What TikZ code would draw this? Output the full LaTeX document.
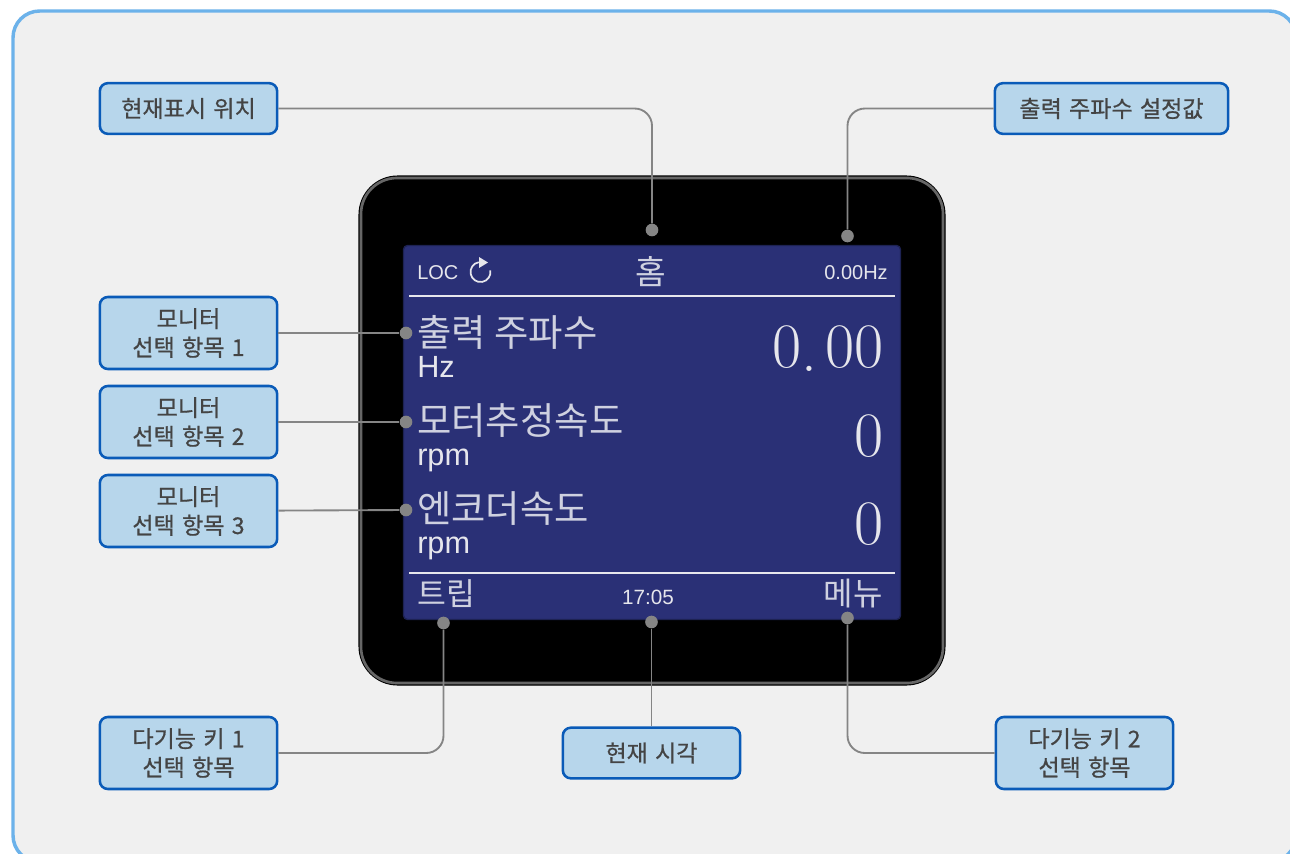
\documentclass[tikz,border=0pt]{standalone}
\usepackage{fontspec}
\usepackage{tikz}
\usetikzlibrary{positioning}
\newfontfamily\krfont{Noto Sans CJK KR}
\newfontfamily\lblfont[FakeBold=0.7, WordSpace=1.4]{Noto Sans CJK KR}
\newfontfamily\latinfont{Liberation Sans}
\newcommand{\krsize}[1]{\krfont\fontsize{#1}{#1}\selectfont}
\newcommand{\lasize}[1]{\latinfont\fontsize{#1}{#1}\selectfont}
\definecolor{framebg}{HTML}{F0F0F0}
\definecolor{frameline}{HTML}{6CB2EA}
\definecolor{boxfill}{HTML}{B7D6EB}
\definecolor{boxline}{HTML}{0A5BB8}
\definecolor{boxtext}{HTML}{444444}
\definecolor{leadgray}{HTML}{858585}
\definecolor{screenblue}{HTML}{2A3076}
\definecolor{screentext}{HTML}{E6E6EC}
\definecolor{screenthin}{HTML}{CFD1E0}
\tikzset{
    callout/.style = {draw=boxline, fill=boxfill, line width=1.9pt, rounded corners=6pt, minimum width=133pt, minimum height=#1, inner sep=0pt, align=center, text=boxtext, font=\lblfont\fontsize{17.3pt}{17.3pt}\selectfont, execute at begin node=\setlength{\baselineskip}{21.5pt}},
    callout/.default = 38pt,
    leadend/.style = {circle, fill=leadgray, minimum size=9.5pt, inner sep=0pt},
    leader/.style = {draw=leadgray, line width=1.4pt, rounded corners=13pt},
    screentxt/.style = {inner sep=0pt, text=screentext},
    screenthintxt/.style = {inner sep=0pt, text=screenthin}
}
\begin{document}
\begin{tikzpicture} [x=0.75pt, y=-0.75pt]
    \clip (0,0) rectangle (1290,854);
    \fill [white] (0,0) rectangle (1290,854);
    \draw [fill=framebg, draw=frameline, line width=2.6pt, rounded corners=20pt] (13,11) rectangle (1296,862);

    \draw [fill=black, draw=black, line width=0.8pt, rounded corners=29pt] (359,176) rectangle (945,685);
    \draw [draw=black!60!white, line width=2pt, rounded corners=27pt] (361,178) rectangle (943,683);
    \draw [fill=screenblue, draw=screenblue!70!black, line width=1pt, rounded corners=3pt] (403.5,245.5) rectangle (900.5,619.5);
    \draw [screentext, line width=1.5pt] (409,296) -- (895,296);
    \draw [screentext, line width=1.5pt] (409,573) -- (895,573);

    \node (loc) [screentxt, anchor=base west] at (417,279) {\lasize{15pt}LOC};
    \draw [screentext, line width=1.3pt] (490.35,270.3) arc [start angle=-10, end angle=260, radius=10];
    \fill [screentext] (479,257) -- (488,262.5) -- (479,268) -- cycle;
    \node (home) [screenthintxt, anchor=base] at (650.5,284) {\krsize{25pt}홈};
    \node (refhz) [screentxt, anchor=base east] at (888,279) {\lasize{15pt}0.00Hz};

    \node (out) [screenthintxt, anchor=base west] at (417,346) {\krsize{28pt}출력 주파수};
    \node (outunit) [screentxt, anchor=base west] at (417,377) {\lasize{23pt}Hz};
    \node (outval) [screentxt, anchor=base east] at (884,367) {\fontsize{47.5pt}{47.5pt}\selectfont 0\raisebox{-3.3pt}{.}\kern6pt 00};
    \node (mot) [screenthintxt, anchor=base west] at (417,434) {\krsize{28pt}모터추정속도};
    \node (motunit) [screentxt, anchor=base west] at (417,465) {\lasize{23pt}rpm};
    \node (motval) [screentxt, anchor=base east] at (884,456) {\fontsize{47.5pt}{47.5pt}\selectfont 0};
    \node (enc) [screenthintxt, anchor=base west] at (417,522) {\krsize{28pt}엔코더속도};
    \node (encunit) [screentxt, anchor=base west] at (417,553) {\lasize{23pt}rpm};
    \node (encval) [screentxt, anchor=base east] at (884,544) {\fontsize{47.5pt}{47.5pt}\selectfont 0};

    \node (trip) [screenthintxt, anchor=base west] at (417,605) {\krsize{23.5pt}트립};
    \node (clock) [screentxt, anchor=base] at (648,604) {\lasize{15.5pt}17:05};
    \node (menu) [screenthintxt, anchor=base east] at (883,605) {\krsize{24pt}메뉴};

    \node (posbox) [callout] at (188.5,108.5) {현재표시 위치};
    \node (freqbox) [callout, minimum width=175pt] at (1111.5,108.5) {출력 주파수 설정값};
    \node (mon1box) [callout=54pt] at (188.5,333) {모니터\\선택 항목 1};
    \node (mon2box) [callout=54pt] at (188.5,422) {모니터\\선택 항목 2};
    \node (mon3box) [callout=54pt] at (188.5,511) {모니터\\선택 항목 3};
    \node (key1box) [callout=54pt] at (188.5,753) {다기능 키 1\\선택 항목};
    \node (timebox) [callout] at (651.5,753) {현재 시각};
    \node (key2box) [callout=54pt] at (1084.5,753) {다기능 키 2\\선택 항목};

    \node (posdot) [leadend] at (652,230) {};
    \node (freqdot) [leadend] at (847.5,236) {};
    \node (mon1dot) [leadend] at (406,333) {};
    \node (mon2dot) [leadend] at (406,422) {};
    \node (mon3dot) [leadend] at (406,510) {};
    \node (key1dot) [leadend] at (443.5,623) {};
    \node (timedot) [leadend] at (651.5,622) {};
    \node (key2dot) [leadend] at (847.5,618) {};

    \path [leader] (posbox) -| (posdot);
    \path [leader] (freqbox) -| (freqdot);
    \path [leader] (mon1box) -- (mon1dot);
    \path [leader] (mon2box) -- (mon2dot);
    \path [leader] (mon3box) -- (mon3dot);
    \path [leader] (key1box) -| (key1dot);
    \path [leader] (timebox) -- (timedot);
    \path [leader] (key2box) -| (key2dot);
\end{tikzpicture}
\end{document}
